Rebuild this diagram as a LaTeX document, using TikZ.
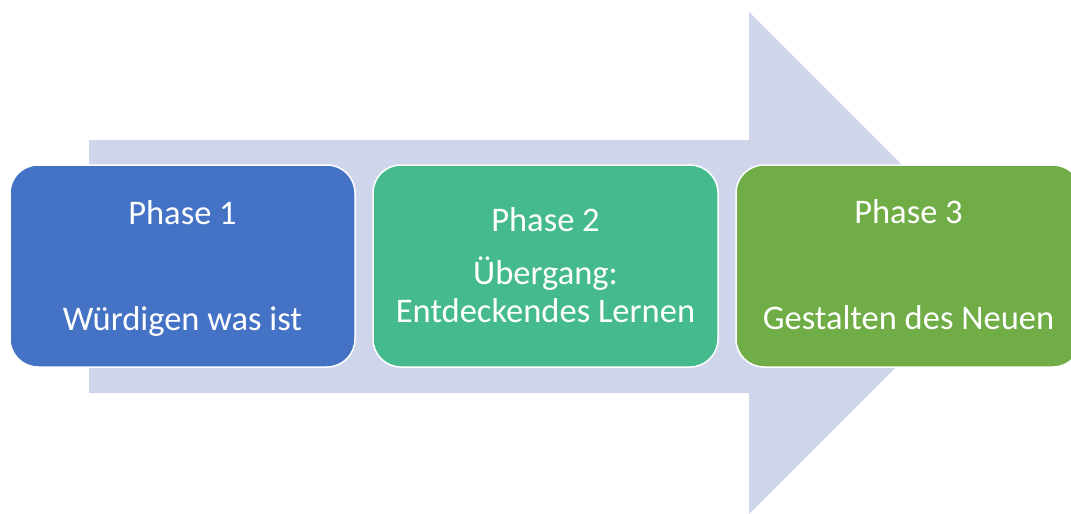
\documentclass[tikz,border=0pt]{standalone}
\usepackage{fontspec}
\setmainfont{Carlito}
\definecolor{arrowc}{HTML}{CFD5EA}
\definecolor{bluec}{HTML}{4472C4}
\definecolor{tealc}{HTML}{45BB8D}
\definecolor{greenc}{HTML}{70AD47}
\begin{document}
\begin{tikzpicture}[x=1pt,y=-1pt,
  phasebox/.style={draw=white,line width=1.5pt,rounded corners=28pt,minimum width=345pt,minimum height=202pt,inner sep=0pt},
  label/.style={text=white,font=\fontsize{34.5}{40}\selectfont,anchor=base,inner sep=0pt}]
\useasboundingbox (0,0) rectangle (1071,514);
\clip (0,0) rectangle (1071,514);
\fill[arrowc] (89,140) -- (749,140) -- (749,12) -- (1000,263) -- (749,514) -- (749,393) -- (89,393) -- cycle;
\node[phasebox,fill=bluec] (b1) at (182.5,266) {};
\node[phasebox,fill=tealc] (b2) at (545.5,266) {};
\node[phasebox,fill=greenc] (b3) at (908.5,266) {};
\node[label] (t1a) at (182.5,224) {Phase 1};
\node[label] (t1b) at (182.5,330) {Würdigen was ist};
\node[label] (t2a) at (545.5,231) {Phase 2};
\node[label] (t2b) at (545.5,284) {Übergang:};
\node[label] (t2c) at (545.5,322) {Entdeckendes Lernen};
\node[label] (t3a) at (908.5,223) {Phase 3};
\node[label] (t3b) at (908.5,329) {Gestalten des Neuen};
\end{tikzpicture}
\end{document}
